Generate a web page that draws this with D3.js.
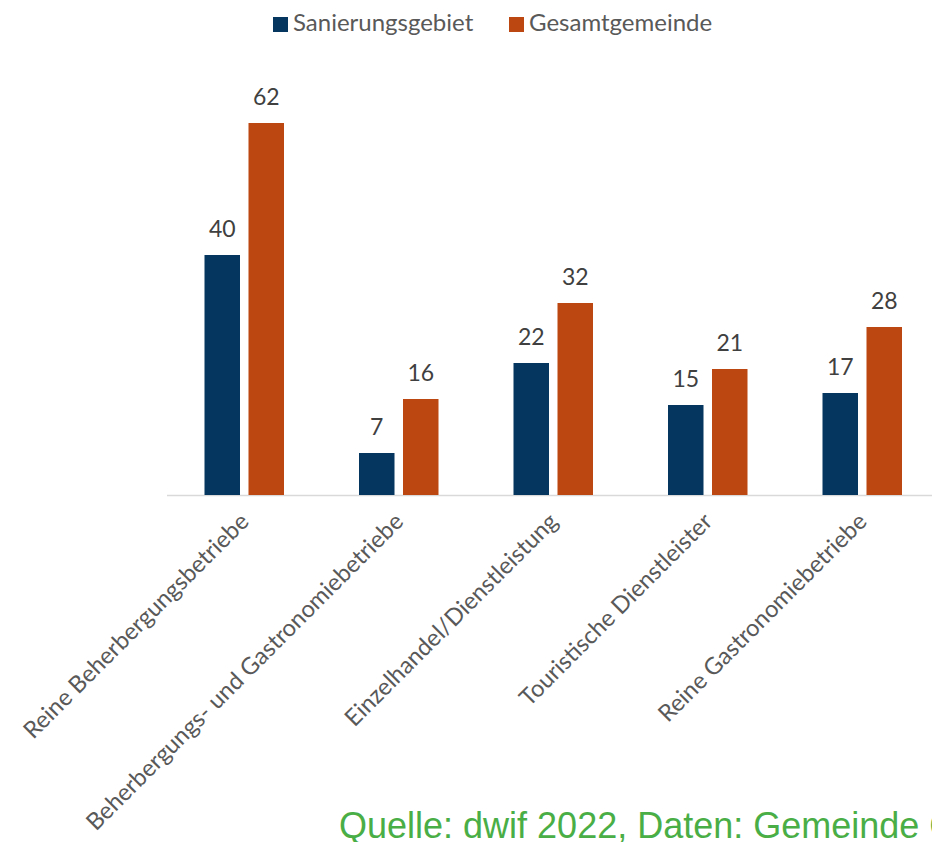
<!DOCTYPE html>
<html>
<head>
<meta charset="utf-8">
<script src="https://cdn.jsdelivr.net/npm/d3@7"></script>
<style>
  html, body { margin: 0; padding: 0; background: #fff; }
  svg { display: block; }
</style>
</head>
<body>
<svg id="chart" width="932" height="842"></svg>
<script>
const categories = [
  "Reine Beherbergungsbetriebe",
  "Beherbergungs- und Gastronomiebetriebe",
  "Einzelhandel/Dienstleistung",
  "Touristische Dienstleister",
  "Reine Gastronomiebetriebe"
];
const seriesNames = ["Sanierungsgebiet", "Gesamtgemeinde"];
const sanierungsgebiet = [40, 7, 22, 15, 17];
const gesamtgemeinde = [62, 16, 32, 21, 28];
const seriesColors = ["#04365F", "#BD4711"];
const sourceText = "Quelle: dwif 2022, Daten: Gemeinde C";

const seriesValues = [sanierungsgebiet, gesamtgemeinde];
const data = categories.map((c, i) => ({
  cat: c,
  vals: seriesNames.map((s, j) => ({ key: s, value: seriesValues[j][i], color: seriesColors[j] }))
}));

const svg = d3.select("#chart");
const baseY = 495;

const x0 = d3.scaleBand().domain(categories).range([167, 939.5]).paddingInner(0).paddingOuter(0);
const groupW = 79.5;
const x1 = d3.scaleBand().domain(seriesNames).range([0, groupW]).paddingInner(8.5 / 44).paddingOuter(0);
const y = d3.scaleLinear().domain([0, 70]).range([baseY, baseY - 420]);

// axis line
const xAxis = d3.axisBottom(x0).tickSize(0).tickFormat("");
const ax = svg.append("g").attr("transform", `translate(0,${baseY + 0.5})`).call(xAxis);
ax.select(".domain").attr("stroke", "#d9d9d9").attr("stroke-width", 1.5).attr("d", "M167,0H932");

// bars
const groups = svg.append("g").selectAll("g").data(data).join("g")
  .attr("transform", d => `translate(${x0(d.cat) + (x0.bandwidth() - groupW) / 2},0)`);

groups.selectAll("rect").data(d => d.vals).join("rect")
  .attr("x", d => x1(d.key))
  .attr("y", d => y(d.value))
  .attr("width", x1.bandwidth())
  .attr("height", d => y(0) - y(d.value))
  .attr("fill", d => d.color);

groups.selectAll("text").data(d => d.vals).join("text")
  .attr("x", d => x1(d.key) + x1.bandwidth() / 2)
  .attr("y", d => y(d.value) - 18)
  .attr("text-anchor", "middle")
  .attr("font-family", "Lato, sans-serif")
  .attr("font-size", 23)
  .attr("fill", "#404040")
  .text(d => d.value);

// category labels
svg.append("g").selectAll("text").data(categories).join("text")
  .attr("transform", d => `translate(${x0(d) + x0.bandwidth() / 2 + 6},${baseY + 28}) rotate(-45)`)
  .attr("text-anchor", "end")
  .attr("font-family", "Lato, sans-serif")
  .attr("font-size", 23.6)
  .attr("fill", "#595959")
  .text(d => d);

// legend
const legendX = [273, 509];
const legend = svg.append("g").selectAll("g").data(seriesNames).join("g")
  .attr("transform", (d, i) => `translate(${legendX[i]},17)`);
legend.append("rect").attr("width", 15).attr("height", 15).attr("fill", (d, i) => seriesColors[i]);
legend.append("text").attr("x", 20).attr("y", 14)
  .attr("font-family", "Lato, sans-serif").attr("font-size", 24).attr("fill", "#595959")
  .text(d => d);

// source
svg.append("text").attr("x", 339).attr("y", 838)
  .attr("font-family", "'Liberation Sans', Arial, sans-serif")
  .attr("font-size", 36).attr("fill", "#4AAE46")
  .text(sourceText);
</script>
</body>
</html>
